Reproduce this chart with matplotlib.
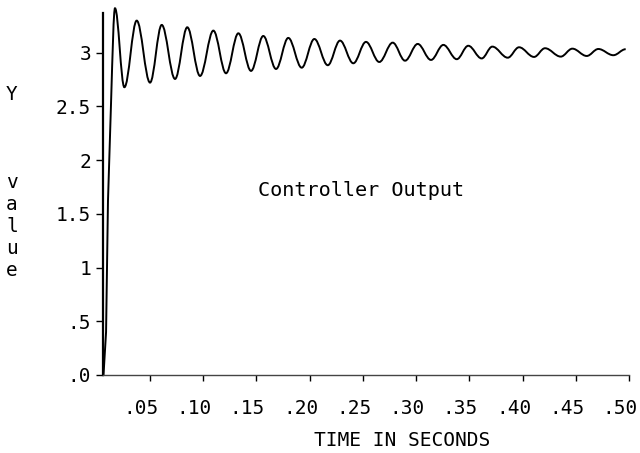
import matplotlib
matplotlib.use("Agg")
import matplotlib.pyplot as plt
from matplotlib.path import Path
from matplotlib.patches import PathPatch
from matplotlib.transforms import ScaledTranslation

# ---- data ----
rise_t = [0.0063, 0.0087, 0.0105, 0.0134]
rise_v = [0.00, 0.40, 1.62, 2.54]

peak_t = [0.0171, 0.0375, 0.0610, 0.0850, 0.1095, 0.1330, 0.1564, 0.1799,
          0.2044, 0.2285, 0.2529, 0.2780, 0.3015, 0.3256, 0.3490, 0.3716,
          0.3967, 0.4211, 0.4468, 0.4712, 0.4969]
peak_v = [3.414, 3.299, 3.259, 3.237, 3.206, 3.181, 3.156, 3.138,
          3.128, 3.113, 3.101, 3.094, 3.082, 3.073, 3.065, 3.057,
          3.051, 3.042, 3.038, 3.035, 3.033]
trough_t = [0.0259, 0.0500, 0.0735, 0.0970, 0.1214, 0.1449, 0.1684, 0.1925,
            0.2170, 0.2410, 0.2654, 0.2896, 0.3140, 0.3382, 0.3616, 0.3861,
            0.4108, 0.4359, 0.4603, 0.4853]
trough_v = [2.679, 2.722, 2.756, 2.784, 2.809, 2.831, 2.849, 2.861,
            2.884, 2.902, 2.914, 2.926, 2.933, 2.940, 2.947, 2.954,
            2.961, 2.964, 2.970, 2.977]

xticks = [0.05, 0.10, 0.15, 0.20, 0.25, 0.30, 0.35, 0.40, 0.45, 0.50]
xticklabels = [".05", ".10", ".15", ".20", ".25", ".30", ".35", ".40", ".45", ".50"]
yticks = [0, 0.5, 1, 1.5, 2, 2.5, 3]
yticklabels = [".0", ".5", "1", "1.5", "2", "2.5", "3"]

FONT = "DejaVu Sans Mono"
FS = 14

fig = plt.figure(figsize=(6.4, 4.53), dpi=100)
ax = fig.add_axes([0.1609, 0.1722, 0.8219, 0.7991])
ax.set_xlim(0.0058, 0.50)
ax.set_ylim(0, 3.37)

# extrema in time order (peaks and troughs alternate)
ext_t, ext_v = [], []
for i in range(len(peak_t)):
    ext_t.append(peak_t[i]); ext_v.append(peak_v[i])
    if i < len(trough_t):
        ext_t.append(trough_t[i]); ext_v.append(trough_v[i])

# path: straight rise, then smooth curve through extrema (horizontal tangents)
verts = [(rise_t[0], rise_v[0])]
codes = [Path.MOVETO]
for t, v in zip(rise_t[1:], rise_v[1:]):
    verts.append((t, v)); codes.append(Path.LINETO)
pt, pv = rise_t[-1], rise_v[-1]
qt, qv = rise_t[-2], rise_v[-2]
c1 = (pt + 0.5 * (pt - qt), pv + 0.5 * (pv - qv))
c2 = (ext_t[0] - 0.35 * (ext_t[0] - pt), ext_v[0])
verts += [c1, c2, (ext_t[0], ext_v[0])]
codes += [Path.CURVE4] * 3
k = 0.3634
for i in range(len(ext_t) - 1):
    t0, v0, t1, v1 = ext_t[i], ext_v[i], ext_t[i + 1], ext_v[i + 1]
    dt = t1 - t0
    verts += [(t0 + k * dt, v0), (t1 - k * dt, v1), (t1, v1)]
    codes += [Path.CURVE4] * 3
patch = PathPatch(Path(verts, codes), fill=False, edgecolor="black",
                  linewidth=1.4, transform=ax.transData, clip_on=False)
ax.add_patch(patch)

for s in ["top", "right"]:
    ax.spines[s].set_visible(False)
ax.spines["left"].set_linewidth(1.6)
ax.spines["left"].set_color("black")
ax.spines["bottom"].set_linewidth(1.0)
ax.spines["bottom"].set_color("#444444")

ax.set_xticks(xticks)
ax.set_xticklabels(xticklabels, fontfamily=FONT, fontsize=FS)
ax.set_yticks(yticks)
ax.set_yticklabels(yticklabels, fontfamily=FONT, fontsize=FS)
ax.tick_params(axis="x", direction="out", length=4, width=1, pad=13)
ax.tick_params(axis="y", direction="out", length=5, width=1, pad=3.5)

# plotter offsets the x labels slightly left of their ticks
shift = ScaledTranslation(-0.09, 0, fig.dpi_scale_trans)
for lab in ax.get_xticklabels():
    lab.set_transform(lab.get_transform() + shift)

ax.set_xlabel("TIME IN SECONDS", fontfamily=FONT, fontsize=FS)
ax.xaxis.set_label_coords(0.568, -0.182)
ax.xaxis.label.set_va("center")
ax.set_ylabel("Y\n\n\n\nv\na\nl\nu\ne", fontfamily=FONT, fontsize=FS,
              rotation=0, linespacing=1.2)
ax.yaxis.set_label_coords(-0.173, 0.533)
ax.yaxis.label.set_va("center")
ax.yaxis.label.set_ha("center")

ax.text((361 - 103) / 526, (375 - 191) / 362, "Controller Output",
        fontfamily=FONT, fontsize=14.5, ha="center", va="center",
        transform=ax.transAxes)

fig.savefig("out.png", dpi=100)
